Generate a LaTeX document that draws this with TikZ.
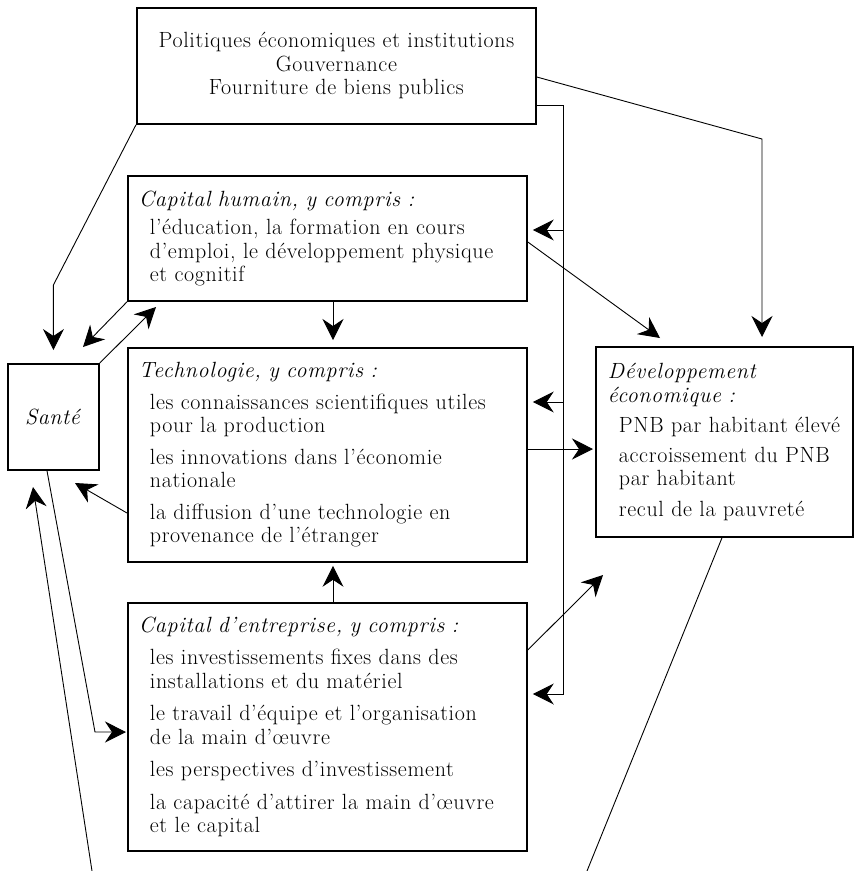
\documentclass[tikz,border=0pt]{standalone}
\usepackage{fontspec}
\setmainfont{Latin Modern Roman}[LetterSpace=3]
\usetikzlibrary{arrows.meta}
\newcommand{\fsz}{\fontsize{22}{23.5}\selectfont}
\newcommand{\hd}[1]{\mbox{\textit{#1}}}
\newcommand{\itm}[1]{\hspace*{11pt}\mbox{#1}}
\begin{document}
\begin{tikzpicture}[x=1pt,y=-1pt,>={Stealth[length=21pt,width=21pt,inset=7pt]},
    box/.style={draw,line width=1.8pt,anchor=north west,align=left,inner xsep=11pt,inner ysep=0pt,font=\fsz},
    conn/.style={line width=0.9pt,->},
    line/.style={line width=0.9pt}]
                \useasboundingbox (0,0) rectangle (856,871);

                % boxes
                \node[box,align=center,text width=377pt,minimum height=116pt] (pol) at (136,7)
                    {Politiques économiques et institutions\\Gouvernance\\Fourniture de biens publics};
                \node[box,text width=377pt,minimum height=125pt] (hum) at (127,175)
                    {\hd{Capital humain, y compris :}\\[5pt]
                     \itm{l’éducation, la formation en cours}\\
                     \itm{d’emploi, le développement physique}\\
                     \itm{et cognitif}};
                \node[box,text width=377pt,minimum height=214pt] (tech) at (127,347)
                    {\hd{Technologie, y compris :}\\[8pt]
                     \itm{les connaissances scientifiques utiles}\\
                     \itm{pour la production}\\[8pt]
                     \itm{les innovations dans l’économie}\\
                     \itm{nationale}\\[8pt]
                     \itm{la diffusion d’une technologie en}\\
                     \itm{provenance de l’étranger}};
                \node[box,text width=377pt,minimum height=248pt] (ent) at (127,602)
                    {\hd{Capital d’entreprise, y compris :}\\[9pt]
                     \itm{les investissements fixes dans des}\\
                     \itm{installations et du matériel}\\[9pt]
                     \itm{le travail d’équipe et l’organisation}\\
                     \itm{de la main d’œuvre}\\[9pt]
                     \itm{les perspectives d’investissement}\\[9pt]
                     \itm{la capacité d’attirer la main d’œuvre}\\
                     \itm{et le capital}};
                \node[box,align=center,inner xsep=0pt,minimum width=91pt,minimum height=106pt] (san) at (7,363)
                    {\textit{Santé}};
                \node[box,inner xsep=12pt,text width=233pt,minimum height=190pt] (dev) at (595,346)
                    {\hd{Développement}\\
                     \hd{économique :}\\[7pt]
                     \itm{PNB par habitant élevé}\\[6pt]
                     \itm{accroissement du PNB}\\
                     \itm{par habitant}\\[7pt]
                     \itm{recul de la pauvreté}};

                % free ends
                \coordinate (h1) at (660,338);
                \coordinate (s1) at (83,347);
                \coordinate (s2) at (156,307);
                \coordinate (t1) at (75,483);
                \coordinate (e1) at (603,575);
                \coordinate (b1) at (92,871);
                \coordinate (b2) at (33,487);
                \coordinate (b3) at (587,871);

                % politiques
                \draw[conn,shorten >=13pt] (pol.south west) -- (san.north |- 0,285) -- (san.north);
                \draw[conn,shorten >=9pt] (pol.east |- 0,77) -- (762,139) -- (dev.north -| 762,0);
                \draw[conn,shorten >=5pt] (pol.east |- 0,105) -- (563,105) -- (563,694) -- (ent.east |- 0,694);
                \draw[conn,shorten >=5pt] (563,230) -- (hum.east |- 0,230);
                \draw[conn,shorten >=5pt] (563,402) -- (tech.east |- 0,402);

                % capitaux et technologie
                \draw[conn] (hum.east |- 0,242) -- (h1);
                \draw[conn,shorten >=7pt] (hum.south -| 333,0) -- (tech.north -| 333,0);
                \draw[conn,shorten >=2pt] (tech.east |- 0,449) -- (dev.west |- 0,449);
                \draw[conn,shorten >=3pt] (ent.north -| 333,0) -- (tech.south -| 333,0);
                \draw[conn] (ent.east |- 0,650) -- (e1);

                % sante
                \draw[conn] (hum.south west) -- (s1);
                \draw[conn] (san.north east) -- (s2);
                \draw[conn] (tech.west |- 0,513) -- (t1);
                \draw[conn,shorten >=1pt] (san.south -| 47,0) -- (95,732) -- (ent.west |- 0,732);
                \draw[conn] (b1) -- (b2);
                \draw[line] (dev.south -| 722,0) -- (b3);
             \end{tikzpicture}
\end{document}
